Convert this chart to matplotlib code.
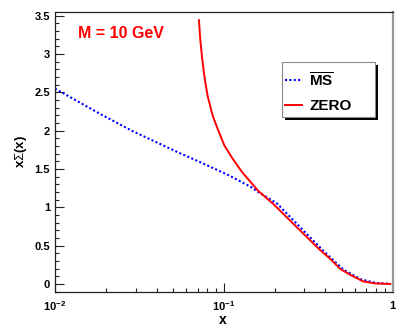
import numpy as np
import matplotlib
matplotlib.use('Agg')
import matplotlib.pyplot as plt
from matplotlib.lines import Line2D
from matplotlib.patches import Rectangle
from matplotlib.ticker import FixedLocator, FixedFormatter, MultipleLocator, NullFormatter

plt.rcParams['font.family'] = ['Liberation Sans', 'DejaVu Sans']
plt.rcParams['mathtext.fontset'] = 'custom'
plt.rcParams['mathtext.rm'] = 'Liberation Sans'
plt.rcParams['mathtext.bf'] = 'Liberation Sans:bold'
plt.rcParams['mathtext.it'] = 'Liberation Sans:italic'

# MS-bar scheme
ms_x = [0.01, 0.0185, 0.0285, 0.0552, 0.073, 0.1068, 0.144, 0.16, 0.207, 0.284, 0.39, 0.51, 0.65, 0.8, 0.95]
ms_y = [2.55, 2.22, 2.00, 1.705, 1.587, 1.42, 1.27, 1.20, 1.05, 0.74, 0.43, 0.19, 0.06, 0.012, 0.002]

# ZERO scheme
zero_x = [0.0713, 0.0725, 0.0745, 0.0766, 0.0801, 0.0858, 0.0919, 0.1007, 0.1128, 0.1282,
          0.1602, 0.1967, 0.27, 0.372, 0.43, 0.49, 0.564, 0.67, 0.79, 0.97]
zero_y = [3.443, 3.202, 2.941, 2.724, 2.463, 2.202, 2.027, 1.811, 1.636, 1.462,
          1.214, 1.044, 0.744, 0.444, 0.322, 0.196, 0.117, 0.033, 0.007, 0.0]

xticks = [0.01, 0.1, 1.0]
xticklabels = [r'$\mathbf{10^{-2}}$', r'$\mathbf{10^{-1}}$', r'$\mathbf{1}$']
yticks = [0, 0.5, 1, 1.5, 2, 2.5, 3, 3.5]
yticklabels = ['0', '0.5', '1', '1.5', '2', '2.5', '3', '3.5']

W, H = 403, 332
fig = plt.figure(figsize=(W / 100, H / 100), dpi=100)


def fx(px):
    return px / W


def fy(py):
    return 1 - py / H


ax = fig.add_axes([fx(55), fy(292), fx(392.5) - fx(55), fy(12) - fy(292)])

ms_line, = ax.plot(ms_x, ms_y, color='#0000ff', lw=1.5, linestyle=(0, (1, 1.1)))
zero_line, = ax.plot(zero_x, zero_y, color='#ff0000', lw=1.4)

ax.set_xscale('log')
ax.set_xlim(0.01, 1.0)
ax.set_ylim(-0.105, 3.55)

ax.xaxis.set_major_locator(FixedLocator(xticks))
ax.xaxis.set_major_formatter(FixedFormatter(xticklabels))
minors = [m * d for d in (0.01, 0.1) for m in range(2, 10)]
ax.xaxis.set_minor_locator(FixedLocator(minors))
ax.xaxis.set_minor_formatter(NullFormatter())

ax.yaxis.set_major_locator(FixedLocator(yticks))
ax.yaxis.set_major_formatter(FixedFormatter(yticklabels))
ax.yaxis.set_minor_locator(MultipleLocator(0.1))

ax.tick_params(which='both', direction='in', top=False, right=False, width=0.8, color='#222222')
ax.tick_params(which='major', length=6.5)
ax.tick_params(which='minor', length=3.2)
ax.tick_params(axis='y', which='major', labelsize=8, pad=3.5)
ax.tick_params(axis='x', which='major', labelsize=8, pad=5)
for lab in ax.get_yticklabels():
    lab.set_fontweight('bold')

for s in ['left', 'bottom', 'top']:
    ax.spines[s].set_color('#222222')
    ax.spines[s].set_linewidth(0.9)
ax.spines['right'].set_color('#999999')
ax.spines['right'].set_linewidth(1.6)

fig.text(fx(223), fy(320), 'x', ha='center', va='center', fontsize=10, fontweight='bold')
fig.text(fx(21), fy(151), r'x$\Sigma$(x)', ha='center', va='center', rotation=90,
         fontsize=9.5, fontweight='bold')

fig.text(fx(78), fy(38.3), 'M = 10 GeV', color='#ff0000', fontsize=11.5, fontweight='bold',
         ha='left', va='baseline')

# legend box drawn by hand (ROOT style with shadow)
bx0, by0, bx1, by1 = 282.3, 62.3, 374.7, 116.7
fig.add_artist(Rectangle((fx(bx0 + 3), fy(by1 + 3)), fx(bx1) - fx(bx0), fy(by0) - fy(by1),
                         transform=fig.transFigure, facecolor='black', edgecolor='none', zorder=5))
fig.add_artist(Rectangle((fx(bx0), fy(by1)), fx(bx1) - fx(bx0), fy(by0) - fy(by1),
                         transform=fig.transFigure, facecolor='white', edgecolor='#888888',
                         lw=0.8, zorder=6))
fig.add_artist(Line2D([fx(285), fx(302)], [fy(80), fy(80)], transform=fig.transFigure,
                      color=ms_line.get_color(), lw=1.5, linestyle=(0, (1, 1.1)), zorder=7))
fig.add_artist(Line2D([fx(285), fx(302)], [fy(105), fy(105)], transform=fig.transFigure,
                      color=zero_line.get_color(), lw=1.4, zorder=7))
fig.text(fx(309), fy(87), r'$\overline{\mathbf{MS}}$', fontsize=11, ha='left', va='baseline', zorder=8)
fig.text(fx(309), fy(110.5), 'ZERO', fontsize=11, fontweight='bold', ha='left', va='baseline', zorder=8)

fig.savefig('out.png', dpi=100)
